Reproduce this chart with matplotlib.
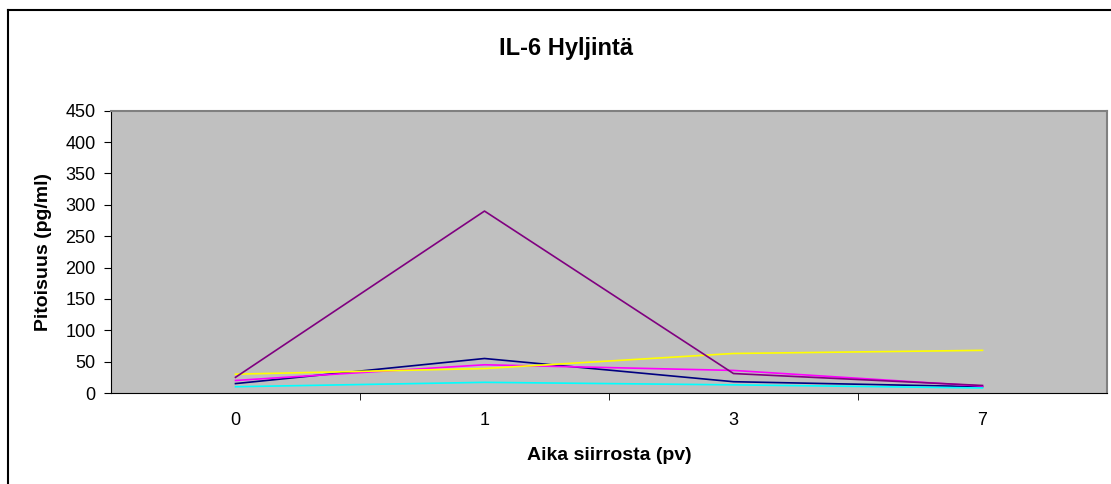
import matplotlib.pyplot as plt
from matplotlib.lines import Line2D

plt.rcParams['font.family'] = ['Liberation Sans', 'DejaVu Sans']

# Näytteenottopäivät siirron jälkeen
days = ['0', '1', '3', '7']

# IL-6 pitoisuudet (pg/ml), yksi sarja per potilas
patient_1 = [15, 55, 18, 10]
patient_2 = [20, 45, 36, 11]
patient_3 = [30, 39, 63, 68]
patient_4 = [10, 17, 13, 8]
patient_5 = [25, 290, 31, 12]

series = [patient_1, patient_2, patient_3, patient_4, patient_5]
colors = ['#000080', '#FF00FF', '#FFFF00', '#00FFFF', '#800080']


def plot_il6():
    fig = plt.figure(figsize=(11.11, 4.84), dpi=100)
    ax = fig.add_axes([0.0999, 0.188, 0.8965, 0.5833])
    ax.set_facecolor('#C0C0C0')

    x = range(len(days))
    for values, color in zip(series, colors):
        ax.plot(x, values, color=color, linewidth=1.2)

    ax.set_xlim(-0.5, len(days) - 0.5)
    ax.set_ylim(0, 450)
    ax.set_yticks(range(0, 451, 50))

    # kategorianimet keskelle, tikit kategorioiden rajoille
    ax.set_xticks(list(x))
    ax.set_xticklabels(days)
    ax.set_xticks([i + 0.5 for i in range(len(days) - 1)], minor=True)
    ax.tick_params(axis='x', which='major', length=0, pad=14, labelsize=13)
    ax.tick_params(axis='x', which='minor', length=5, direction='out')
    ax.tick_params(axis='y', length=5, direction='out', labelsize=13, pad=6)

    for side in ['left', 'bottom']:
        ax.spines[side].set_color('black')
    for side in ['top', 'right']:
        ax.spines[side].set_color('#808080')
        ax.spines[side].set_linewidth(1.5)

    ax.set_xlabel('Aika siirrosta (pv)', fontsize=14, fontweight='bold', va='center')
    ax.xaxis.set_label_coords(0.5, -0.221)
    ax.set_ylabel('Pitoisuus (pg/ml)', fontsize=14, fontweight='bold', va='center')
    ax.yaxis.set_label_coords(-0.0673, 0.5)
    fig.text(566 / 1111, 1 - 48 / 484, 'IL-6 Hyljintä', fontsize=17, fontweight='bold',
             ha='center', va='center')

    # kaavion kehys
    fig.add_artist(Line2D([0.0075, 0.0075], [0, 0.979], color='black', linewidth=1.5))
    fig.add_artist(Line2D([0.0075, 1.0], [0.979, 0.979], color='black', linewidth=1.5))

    plt.savefig('out.png', dpi=100)


if __name__ == '__main__':
    plot_il6()
